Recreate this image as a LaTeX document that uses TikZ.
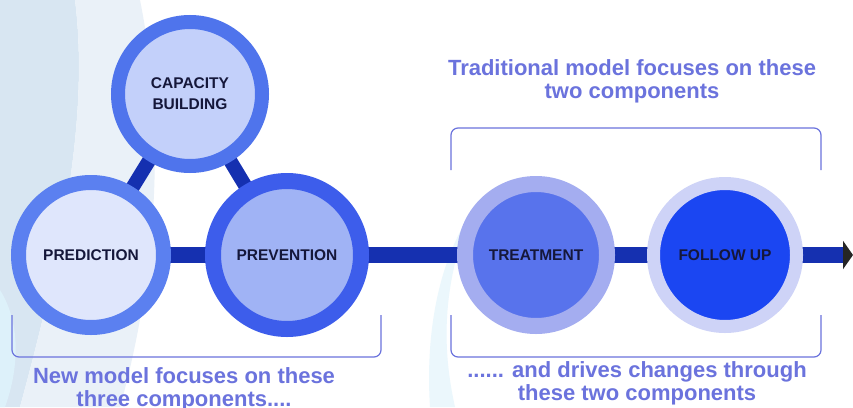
\documentclass[tikz,border=0pt]{standalone}
\usepackage{fontspec}
\setmainfont{Liberation Sans}
\usepackage{tikz}
\usetikzlibrary{arrows.meta}
\definecolor{navytext}{HTML}{15173A}
\definecolor{linkblue}{HTML}{1530B0}
\definecolor{notecolor}{HTML}{6B73DD}
\definecolor{capring}{HTML}{4F74EC}
\definecolor{capfill}{HTML}{C3D0FA}
\definecolor{predring}{HTML}{5B80F0}
\definecolor{predfill}{HTML}{DFE6FC}
\definecolor{prevring}{HTML}{3D5DEB}
\definecolor{prevfill}{HTML}{A0B3F5}
\definecolor{treatring}{HTML}{A4ADF0}
\definecolor{treatfill}{HTML}{5873EC}
\definecolor{followring}{HTML}{CED3F7}
\definecolor{followfill}{HTML}{1B46F2}
\definecolor{swoosh1}{HTML}{D8E6F2}
\definecolor{swoosh2}{HTML}{EAF1F8}
\definecolor{swoosh3}{HTML}{DDF1FA}
\pgfdeclarelayer{bg}
\pgfdeclarelayer{links}
\pgfsetlayers{bg,links,main}
\tikzstyle{mycircle} = [circle, inner sep=0pt, align=center, text=navytext,
    font=\fontsize{15.5}{21}\selectfont\bfseries]
\tikzstyle{mylink} = [draw=linkblue, line width=16pt]
\tikzstyle{mybracket} = [draw=notecolor, line width=1.2pt, rounded corners=7pt]
\tikzstyle{mynote} = [text=notecolor, align=center, font=\fontsize{22}{23}\selectfont\bfseries]

\begin{document}
\begin{tikzpicture}[x=1pt, y=-1pt]
                \useasboundingbox (0,0) rectangle (853,407);
                % soft background swooshes
                \begin{pgfonlayer}{bg}
                    \fill[white] (0,0) rectangle (853,407);
                    \fill[swoosh1] (0,0) -- (75,0) .. controls (90,120) and (60,260) .. (20,407) -- (0,407) -- cycle;
                    \fill[swoosh2] (75,0) -- (140,0) .. controls (170,150) and (150,300) .. (120,407) -- (20,407) .. controls (60,260) and (90,120) .. (75,0) -- cycle;
                    \fill[swoosh3] (0,290) .. controls (25,330) and (15,380) .. (5,407) -- (0,407) -- cycle;
                    \fill[swoosh3!60] (470,215) .. controls (445,280) and (440,340) .. (455,407) -- (430,407) .. controls (425,330) and (440,260) .. (470,215) -- cycle;
                \end{pgfonlayer}
                % the five components
                \node [mycircle, draw=capring, fill=capfill, line width=14pt, minimum size=144pt] (cap) at (190,94) {CAPACITY\\BUILDING};
                \node [mycircle, draw=predring, fill=predfill, line width=15pt, minimum size=145pt] (pred) at (91,255) {PREDICTION};
                \node [mycircle, draw=prevring, fill=prevfill, line width=16pt, minimum size=148pt] (prev) at (287,255) {PREVENTION};
                \node [mycircle, draw=treatring, fill=treatfill, line width=16pt, minimum size=142pt] (treat) at (536,255) {TREATMENT};
                \node [mycircle, draw=followring, fill=followfill, line width=13pt, minimum size=143pt] (follow) at (725,255) {FOLLOW UP};
                \coordinate (tip) at (853,255);
                % links behind the circles
                \begin{pgfonlayer}{links}
                    \draw[mylink, line width=14pt] (cap.center) -- (pred.center);
                    \draw[mylink, line width=14pt] (cap.center) -- (prev.center);
                    \draw[mylink] (pred.center) -- (prev.center) -- (treat.center) -- (follow.center);
                    \draw[mylink, -{Triangle[length=10pt, width=28pt, color=black!85]}] (follow.center) -- (tip);
                \end{pgfonlayer}
                % brackets and notes
                \draw[mybracket] (12,315) -- (12,357) -- (381,357) -- (381,315);
                \draw[mybracket] (451,170) -- (451,128) -- (821,128) -- (821,170);
                \draw[mybracket] (451,315) -- (451,357) -- (821,357) -- (821,315);
                \node[mynote, anchor=base] (newnote) at (184,406) {New model focuses on these\\three components....};
                \node[mynote, anchor=base] (oldnote) at (632,98) {Traditional model focuses on these\\two components};
                \node[mynote, anchor=base] (drivenote) at (637,400) {...... and drives changes through\\these two components};
            \end{tikzpicture}
\end{document}
